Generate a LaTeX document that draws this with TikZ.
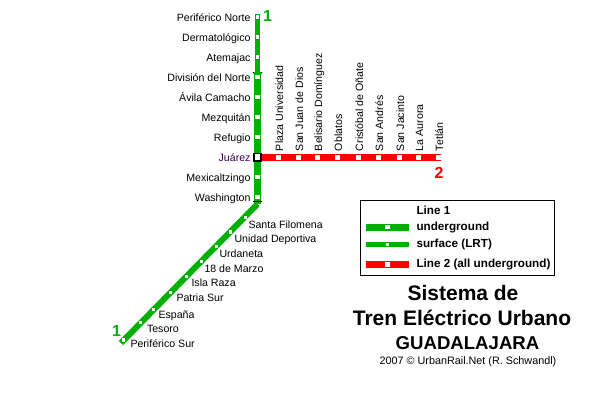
\documentclass[tikz,border=0pt]{standalone}
\usepackage{fontspec}
\setmainfont{Liberation Sans}
\definecolor{lgreen}{RGB}{0,176,0}
\definecolor{lred}{RGB}{255,0,0}
\definecolor{juarez}{RGB}{64,0,80}
\tikzset{
  every node/.style={inner sep=0pt,outer sep=0pt},
  stA/.style={fill=white,minimum size=4.8bp,shape=rectangle},
  stB/.style={fill=white,minimum size=3.5bp,shape=rectangle},
  stlab/.style={font=\fontsize{10.6bp}{12bp}\selectfont,anchor=mid east,yshift=-1.5bp},
  dlab/.style={font=\fontsize{10.6bp}{12bp}\selectfont,anchor=mid west,yshift=-1.5bp},
  rlab/.style={font=\fontsize{10.6bp}{12bp}\selectfont,anchor=mid west,rotate=90},
  leg/.style={font=\fontsize{11.7bp}{13bp}\bfseries\selectfont,anchor=mid west,yshift=-.8bp},
  num/.style={font=\fontsize{16bp}{18bp}\bfseries\selectfont},
  ttl/.style={font=\fontsize{21bp}{24bp}\bfseries\selectfont},
  gthick/.style={draw=lgreen,line width=7bp},
  gthin/.style={draw=lgreen,line width=5.4bp},
  rthick/.style={draw=lred,line width=7bp},
}
\begin{document}
\begin{tikzpicture}[x=1bp,y=-1bp]
\useasboundingbox (0,0) rectangle (600,400);
\fill[white] (0,0) rectangle (600,400);
% station anchors
\coordinate (n0) at (257.5,14);
\coordinate (p) at (257.5,72);
\coordinate (w) at (257.5,204);
\coordinate (sEnd) at (121,343);
\coordinate (rEnd) at (441,157.3);
% lines
\draw[gthin] (n0) -- (p);
\draw[gthick] (p) -- (w);
\draw[draw=lgreen,line width=6bp,line join=round] (w) -- (sEnd);
\draw[rthick] (257.5,157.3) -- (rEnd);
% portal ticks
\draw[black,line width=.8bp] (253,72) -- (254,73.5) (261,73.5) -- (262,72);
\draw[black,line width=.8bp] (253,201.7) -- (262,201.7);
% line 1 north
\foreach \nm/\y/\t/\s in {pn/17/Periférico Norte/stB,de/37/Dermatológico/stB,at/57/Atemajac/stB,dn/77/División del Norte/stA,ac/97/Ávila Camacho/stA,me/117/Mezquitán/stA,re/137/Refugio/stA,mx/177/Mexicaltzingo/stA,wa/197/Washington/stA}{
  \node[\s] (\nm) at (257.5,\y) {};
  \node[stlab] (l\nm) at (250.5,\y) {\t};
}
\node[draw=black,line width=1.8bp,fill=white,minimum size=7.5bp] (ju) at (257.5,157.3) {};
\node[stlab,text=juarez] (lju) at (250.5,157.3) {Juárez};
% line 2
\foreach \nm/\x/\t in {pu/278.3/Plaza Universidad,sj/298.3/San Juan de Dios,bd/317.3/Belisario Domínguez,ob/337.3/Oblatos,co/358.3/Cristóbal de Oñate,sa/378.3/San Andrés,si/399.3/San Jacinto,la/418.3/La Aurora,te/438.3/Tetlán}{
  \node[stA] (\nm) at (\x,157.3) {};
  \node[rlab] (l\nm) at (\x+2.2,151) {\t};
}
% line 1 south
\foreach \nm/\x/\y/\t/\lx/\ly in {
 sf/245.7/217.3/Santa Filomena/248.5/224,
 ud/230.3/232/Unidad Deportiva/234.5/238.5,
 ur/216.3/246.3/Urdaneta/219.5/253.5,
 ma/201.3/261.3/18 de Marzo/204.5/268.5,
 ir/186.3/276.3/Isla Raza/191.5/282.5,
 ps/170.7/292.3/Patria Sur/176.5/297.5,
 es/153.3/309.3/España/158.5/314.5,
 ts/140.3/322.3/Tesoro/147/328.5,
 pf/123.3/340/Periférico Sur/130.5/343.5}{
  \node[stB] (\nm) at (\x,\y) {};
  \node[dlab] (l\nm) at (\lx,\ly) {\t};
}
% numbers
\node[num,text=lgreen] (one) at (267.5,16) {1};
\node[num,text=lred] (two) at (439,172.5) {2};
\node[num,text=lgreen] (onb) at (116.5,330.5) {1};
% legend
\node[draw=black,line width=1bp,fill=none,minimum width=194bp,minimum height=74.5bp,anchor=north west] (box) at (360,200.7) {};
\coordinate (la1) at (366,227);\coordinate (la2) at (409,227);
\coordinate (lb1) at (366,244.5);\coordinate (lb2) at (409,244.5);
\coordinate (lc1) at (366,264.5);\coordinate (lc2) at (409,264.5);
\draw[draw=lgreen,line width=7bp] (la1) -- (la2);
\draw[draw=lgreen,line width=5.4bp] (lb1) -- (lb2);
\draw[draw=lred,line width=7bp] (lc1) -- (lc2);
\node[stA] (ka) at (387.7,227) {};
\node[stB] (kb) at (387.7,244.5) {};
\node[stA] (kc) at (387.7,264.5) {};
\node[leg] (t1) at (416.5,211) {Line 1};
\node[leg] (t2) at (416.5,227) {underground};
\node[leg] (t3) at (416.5,244) {surface (LRT)};
\node[leg] (t4) at (416.5,264) {Line 2 (all underground)};
% title
\node[ttl] (ta) at (463,293) {Sistema de};
\node[ttl] (tb) at (462,317.5) {Tren Eléctrico Urbano};
\node[font=\fontsize{18.6bp}{22bp}\bfseries\selectfont] (tc) at (467.5,343) {GUADALAJARA};
\node[font=\fontsize{10.8bp}{12bp}\selectfont] (td) at (468,362) {2007 © UrbanRail.Net (R. Schwandl)};
\end{tikzpicture}
\end{document}
